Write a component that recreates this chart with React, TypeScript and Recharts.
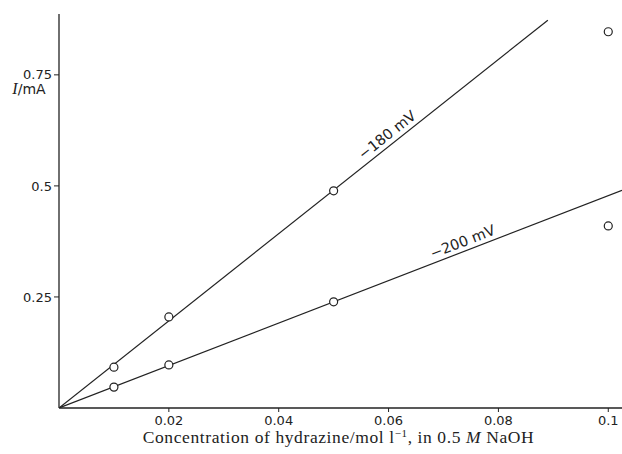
import {
  ComposedChart,
  Line,
  Scatter,
  XAxis,
  YAxis,
  ReferenceDot,
} from "recharts";

// measured points (concentration / mol l-1 , current / mA)
const CONC = [0.01, 0.02, 0.05, 0.1];
const I_180 = [0.092, 0.205, 0.489, 0.847];
const I_200 = [0.047, 0.097, 0.239, 0.41];

// straight lines drawn through the points
const FIT_X_180 = [0, 0.089];
const FIT_I_180 = [0, 0.873];
const FIT_X_200 = [0, 0.1025];
const FIT_I_200 = [0, 0.49];

const X_TICKS = [0.02, 0.04, 0.06, 0.08, 0.1];
const Y_TICKS = [0.25, 0.5, 0.75];

const SANS = "'DejaVu Sans', Lato, sans-serif";
const SERIF = "'Liberation Serif', 'DejaVu Serif', serif";
const INK = "#222";

const pts = (xs: number[], ys: number[]) => xs.map((x, i) => ({ x, y: ys[i] }));

const ring = (p: any) => (
  <circle cx={p.cx} cy={p.cy} r={4} fill="#fff" stroke={INK} strokeWidth={1.2} />
);

const lineText = (text: string, angle: number) => (p: any) => (
  <text
    x={p.cx}
    y={p.cy}
    transform={`rotate(${angle} ${p.cx} ${p.cy})`}
    textAnchor="middle"
    fontFamily={SANS}
    fontSize={14.5}
    fill={INK}
  >
    {text}
  </text>
);

export default function App() {
  return (
    <div>
      <style>{"body{margin:0;background:#fff}"}</style>
      <ComposedChart
        width={622}
        height={454}
        margin={{ top: 14, right: 0, left: 0, bottom: 0 }}
      >
        <XAxis
          dataKey="x"
          type="number"
          domain={[0, 0.1025]}
          allowDataOverflow
          ticks={X_TICKS}
          height={46}
          tickSize={4}
          tickMargin={4}
          stroke={INK}
          axisLine={{ stroke: INK, strokeWidth: 1.3 }}
          tick={{ fill: INK, fontSize: 13, fontFamily: SANS }}
          label={{
            content: (props: any) => {
              const vb = props.viewBox;
              return (
                <text
                  x={vb.x + vb.width / 2 - 2}
                  y={vb.y + 35}
                  textAnchor="middle"
                  fontFamily={SERIF}
                  fontSize={17.5}
                  letterSpacing={0.6}
                  fill={INK}
                >
                  Concentration of hydrazine/mol l
                  <tspan dy={-6} fontSize={11}>−1</tspan>
                  <tspan dy={6}>, in 0.5 </tspan>
                  <tspan fontStyle="italic">M</tspan>
                  <tspan> NaOH</tspan>
                </text>
              );
            },
          }}
        />
        <YAxis
          dataKey="y"
          type="number"
          domain={[0, 0.887]}
          allowDataOverflow
          ticks={Y_TICKS}
          width={59}
          tickSize={5}
          tickMargin={2}
          stroke={INK}
          axisLine={{ stroke: INK, strokeWidth: 1.3 }}
          tick={{ fill: INK, fontSize: 13, fontFamily: SANS }}
          label={{
            content: (props: any) => {
              const vb = props.viewBox;
              return (
                <text
                  x={vb.x + 29}
                  y={vb.y + 80}
                  textAnchor="middle"
                  fontSize={14}
                  fill={INK}
                >
                  <tspan fontFamily={SERIF} fontStyle="italic" fontSize={16}>I</tspan>
                  <tspan fontFamily={SANS}>/mA</tspan>
                </text>
              );
            },
          }}
        />
        <Line
          data={pts(FIT_X_180, FIT_I_180)}
          dataKey="y"
          type="linear"
          stroke={INK}
          strokeWidth={1.2}
          dot={false}
          activeDot={false}
          isAnimationActive={false}
        />
        <Line
          data={pts(FIT_X_200, FIT_I_200)}
          dataKey="y"
          type="linear"
          stroke={INK}
          strokeWidth={1.2}
          dot={false}
          activeDot={false}
          isAnimationActive={false}
        />
        <Scatter
          data={pts(CONC, I_180)}
          dataKey="y"
          shape={ring}
          isAnimationActive={false}
        />
        <Scatter
          data={pts(CONC, I_200)}
          dataKey="y"
          shape={ring}
          isAnimationActive={false}
        />
        <ReferenceDot x={0.0603} y={0.606} r={0} shape={lineText("−180 mV", -38.4)} />
        <ReferenceDot x={0.0738} y={0.364} r={0} shape={lineText("−200 mV", -21.1)} />
      </ComposedChart>
    </div>
  );
}
